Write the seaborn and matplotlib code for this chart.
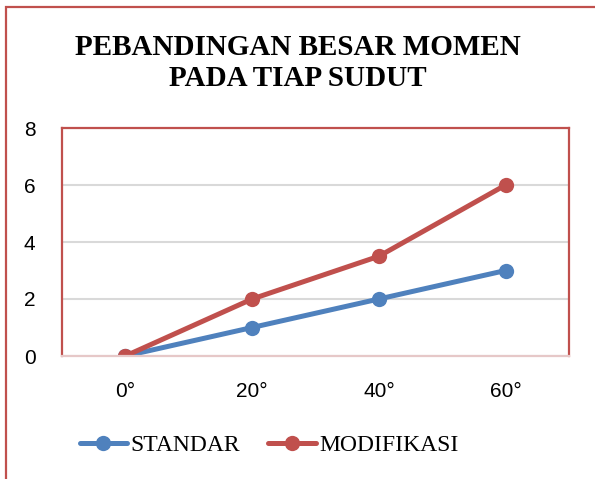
import pandas as pd
import matplotlib
matplotlib.use("Agg")
import matplotlib.pyplot as plt
import seaborn as sns
from matplotlib.patches import Rectangle

# data
sudut = ["0°", "20°", "40°", "60°"]
standar = [0, 1, 2, 3]
modifikasi = [0, 2, 3.5, 6]
series_names = ["STANDAR", "MODIFIKASI"]
y_ticks = [0, 2, 4, 6, 8]

df = pd.DataFrame({
    "Sudut": sudut * 2,
    "Momen": standar + modifikasi,
    "Seri": [series_names[0]] * len(sudut) + [series_names[1]] * len(sudut),
})

sns.set_style("white")
plt.rcParams["font.family"] = ["Liberation Sans", "DejaVu Sans"]
plt.rcParams["text.color"] = "black"
plt.rcParams["xtick.color"] = "black"
plt.rcParams["ytick.color"] = "black"

BLUE = "#4F81BD"
RED = "#C0504D"

fig = plt.figure(figsize=(5.95, 4.79), dpi=100)
ax = fig.add_axes([62 / 595, 1 - 356 / 479, 507 / 595, 228 / 479])

sns.lineplot(data=df, x="Sudut", y="Momen", hue="Seri",
             palette={series_names[0]: BLUE, series_names[1]: RED},
             marker="o", markersize=11, markeredgewidth=0, linewidth=3.6,
             sort=False, ax=ax, legend=False)

ax.set_xlim(-0.5, len(sudut) - 0.5)
ax.set_ylim(0, 8)
ax.set_yticks(y_ticks)
ax.set_xlabel("")
ax.set_ylabel("")
ax.grid(axis="y", color="#D9D9D9", linewidth=1.5)
ax.set_axisbelow(True)
ax.tick_params(axis="y", labelsize=15, labelcolor="black", pad=19, length=0)
ax.tick_params(axis="x", labelsize=15, labelcolor="black", pad=19, length=0)

for side in ["left", "top", "right"]:
    ax.spines[side].set_color(RED)
    ax.spines[side].set_linewidth(1.6)
ax.spines["bottom"].set_color("#E6C8C8")
ax.spines["bottom"].set_linewidth(1.6)

fig.text(0.5, 1 - 63 / 479, "PEBANDINGAN BESAR MOMEN\nPADA TIAP SUDUT",
         ha="center", va="center", fontsize=21, fontweight="bold",
         family="Liberation Serif", linespacing=1.15, color="black")

handles = [plt.Line2D([], [], color=c, linewidth=3.6, marker="o", markersize=11,
                      markeredgewidth=0) for c in (BLUE, RED)]
fig.legend(handles, series_names, loc="center", bbox_to_anchor=(269 / 595, 1 - 445 / 479),
           ncol=2, frameon=False, handlelength=2.0, handletextpad=0.15,
           columnspacing=1.2, prop={"family": "Liberation Serif", "size": 17})

# outer chart border (cut at right and bottom edge)
fig.patches.append(Rectangle((6 / 595, -0.05), 1.1, 1 - 7 / 479 + 0.05,
                             transform=fig.transFigure, fill=False,
                             edgecolor=RED, linewidth=1.6))

fig.savefig("out.png", dpi=100)
